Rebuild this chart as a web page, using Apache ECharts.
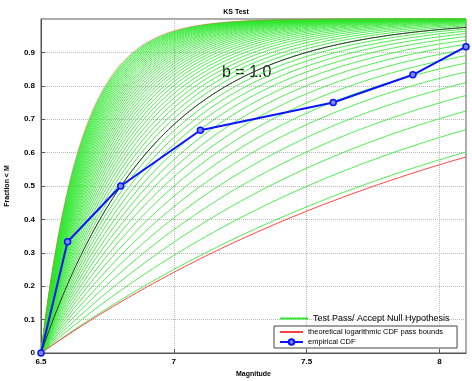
<!DOCTYPE html>
<html>
<head>
<meta charset="utf-8">
<script src="https://cdn.jsdelivr.net/npm/echarts@6/dist/echarts.min.js"></script>
<style>
    html, body { margin: 0; padding: 0; background: #fff; }
    #chart { width: 472px; height: 381px; }
</style>
</head>
<body>
<div id="chart"></div>
<script>
// b-values of the accepted theoretical curves
const passBValues = [0.25, 0.30, 0.35, 0.40, 0.45, 0.50, 0.55, 0.60, 0.65, 0.70,
    0.75, 0.80, 0.85, 0.90, 0.95, 1.00, 1.05, 1.10, 1.15, 1.20, 1.25, 1.30,
    1.35, 1.40, 1.45, 1.50, 1.55, 1.60, 1.65, 1.70, 1.75, 1.80, 1.85, 1.90,
    1.95, 2.00, 2.05, 2.10, 2.15, 2.20, 2.25, 2.30, 2.35, 2.40, 2.45, 2.50,
    2.55, 2.60, 2.65, 2.70, 2.75, 2.80, 2.85];
const boundBValues = [0.24, 2.90];
const referenceB = 1.0;
const minMagnitude = 6.5;
const maxMagnitude = 8.1;

// empirical CDF
const empiricalMagnitudes = [6.5, 6.6, 6.8, 7.1, 7.6, 7.9, 8.1];
const empiricalFractions = [0, 0.333, 0.5, 0.667, 0.75, 0.833, 0.917];

const xTicks = [6.5, 7, 7.5, 8];
const yTicks = [0, 0.1, 0.2, 0.3, 0.4, 0.5, 0.6, 0.7, 0.8, 0.9];

const passName = 'Test Pass/ Accept Null Hypothesis';
const boundName = 'theoretical logarithmic CDF pass bounds';
const empiricalName = 'empirical CDF';

// magnitudes where the theoretical CDFs are evaluated
const sampleMagnitudes = [];
for (let i = 0; i <= 160; i++) sampleMagnitudes.push(minMagnitude + i * 0.01);

function gutenbergRichterCdf(b) {
    return sampleMagnitudes.map(m => [m, 1 - Math.pow(10, -b * (m - minMagnitude))]);
}

const series = [];
passBValues.forEach(b => {
    series.push({
        name: passName,
        type: 'line',
        data: gutenbergRichterCdf(b),
        symbol: 'none',
        silent: true,
        lineStyle: { color: '#2ee82e', width: 1, opacity: 0.85 },
        itemStyle: { color: '#2ee82e' }
    });
});
boundBValues.forEach((b, i) => {
    series.push({
        name: boundName,
        type: 'line',
        data: gutenbergRichterCdf(b),
        symbol: 'none',
        silent: true,
        lineStyle: { color: '#ff4040', width: 1, opacity: i === 0 ? 1 : 0.4 },
        itemStyle: { color: '#ff4040' }
    });
});
series.push({
    type: 'line',
    data: gutenbergRichterCdf(referenceB),
    symbol: 'none',
    silent: true,
    lineStyle: { color: '#333', width: 1 }
});
series.push({
    name: empiricalName,
    type: 'line',
    data: empiricalMagnitudes.map((m, i) => [m, empiricalFractions[i]]),
    symbol: 'circle',
    symbolSize: 6,
    lineStyle: { color: '#0a14ff', width: 2 },
    itemStyle: { color: '#7c88ff', borderColor: '#0a14ff', borderWidth: 1.5 },
    z: 5
});

const chart = echarts.init(document.getElementById('chart'));
const tickFont = { fontFamily: 'Liberation Sans', fontSize: 8, fontWeight: 'bold', color: '#000' };

chart.setOption({
    animation: false,
    title: {
        text: 'KS Test',
        left: 'center',
        top: 4,
        textStyle: { fontFamily: 'Liberation Sans', fontSize: 7, fontWeight: 'bold', color: '#000' }
    },
    grid: {
        left: 41, right: 6, top: 19, bottom: 28,
        outerBoundsMode: 'none',
        containLabel: false,
        show: true, borderColor: '#555', borderWidth: 1, backgroundColor: '#fff'
    },
    xAxis: {
        type: 'value',
        min: minMagnitude,
        max: maxMagnitude,
        interval: 0.5,
        name: 'Magnitude',
        nameLocation: 'middle',
        nameGap: 17,
        nameTextStyle: { fontFamily: 'Liberation Sans', fontSize: 7, fontWeight: 'bold', color: '#000' },
        axisLine: { lineStyle: { color: '#555' } },
        axisTick: { inside: true, length: 4, lineStyle: { color: '#555' } },
        axisLabel: Object.assign({ margin: 5, showMaxLabel: false,
            formatter: v => xTicks.indexOf(v) >= 0 ? String(v) : '' }, tickFont),
        splitLine: { lineStyle: { color: '#b8b8b8', type: 'dotted' } }
    },
    yAxis: {
        type: 'value',
        min: 0,
        max: 1,
        interval: 0.1,
        name: 'Fraction < M',
        nameLocation: 'middle',
        nameGap: 30,
        nameTextStyle: { fontFamily: 'Liberation Sans', fontSize: 7, fontWeight: 'bold', color: '#000' },
        axisLine: { lineStyle: { color: '#555' } },
        axisTick: { inside: true, length: 4, lineStyle: { color: '#555' } },
        axisLabel: Object.assign({ margin: 6, showMaxLabel: false,
            formatter: v => {
                const t = yTicks.find(y => Math.abs(y - v) < 1e-9);
                return t === undefined ? '' : String(t);
            } }, tickFont),
        splitLine: { lineStyle: { color: '#b8b8b8', type: 'dotted' } }
    },
    legend: [
        {
            data: [{ name: passName, itemStyle: { opacity: 0 },
                lineStyle: { width: 2, color: '#2ee82e', opacity: 1 } }],
            left: 274,
            top: 309,
            itemWidth: 28,
            itemHeight: 8,
            itemGap: 6,
            textStyle: { fontFamily: 'Liberation Sans', fontSize: 9, color: '#000' },
            selectedMode: false
        },
        {
            data: [{ name: boundName, itemStyle: { opacity: 0 }, lineStyle: { opacity: 1 } },
                { name: empiricalName }],
            orient: 'vertical',
            left: 274,
            top: 326,
            width: 192,
            padding: [2, 14, 2, 5],
            itemGap: 2,
            itemWidth: 23,
            itemHeight: 7,
            borderColor: '#444',
            borderWidth: 1,
            backgroundColor: '#fff',
            textStyle: { fontFamily: 'Liberation Sans', fontSize: 7.5, color: '#000' },
            selectedMode: false
        }
    ],
    graphic: [{
        type: 'text',
        left: 222,
        top: 65,
        style: { text: 'b = 1.0', fontFamily: 'Liberation Sans', fontSize: 16, fill: '#111' }
    }],
    series: series
});
</script>
</body>
</html>
